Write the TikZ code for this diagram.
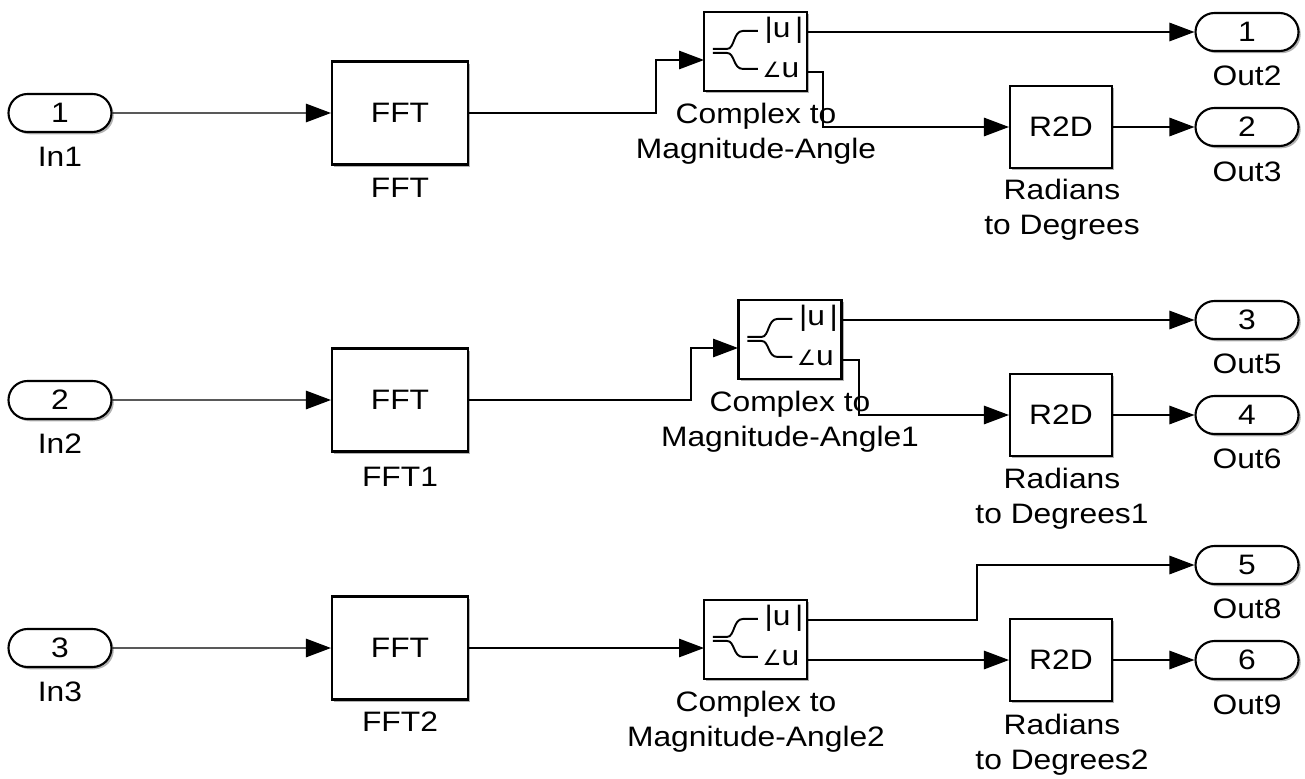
\documentclass[tikz,border=0pt]{standalone}
\usepackage{fontspec}
\setmainfont{Liberation Sans}[FakeStretch=1.13]
\newfontfamily\symfont{DejaVu Sans}
\usetikzlibrary{arrows.meta,shapes.misc,shadows}

\tikzset{
  shade/.style={drop shadow={shadow xshift=0.45mm,shadow yshift=-0.45mm,fill=black,opacity=0.3}},
  port/.style={draw, line width=1.2pt, rounded rectangle, fill=white, shade,
    minimum width=20.6mm, minimum height=7.6mm, inner sep=0pt},
  blk/.style={draw, line width=1.2pt, fill=white, shade, inner sep=0pt},
  fftblk/.style={blk, minimum width=27.2mm, minimum height=20.6mm},
  magblk/.style={blk, minimum width=20.6mm, minimum height=15.8mm},
  degblk/.style={blk, minimum width=20.4mm, minimum height=16.4mm},
  lbl/.style={align=center, inner sep=0pt},
  wire/.style={line width=0.75pt, -{Triangle[length=5mm,width=3.7mm]}},
  magicon/.pic={
    \draw[line width=1.1pt] (10,38) -- (24,38) .. controls (32,38) and (30,20) .. (40,20) -- (55,20);
    \draw[line width=1.1pt] (10,42) -- (24,42) .. controls (32,42) and (30,58) .. (40,58) -- (55,58);
    \node[inner sep=0pt] (-abs) at (81,19) {|u\,|};
    \node[inner sep=0pt] (-ang) at (78,59) {{\symfont\fontsize{12}{12}\selectfont ∠}u};
  },
}

\begin{document}
\begin{tikzpicture}[x=0.2mm, y=-0.2mm, font=\fontsize{16}{20}\selectfont]
  \useasboundingbox (0,0) rectangle (1305,779);

  % first row
  \node[port] (in1) at (60,113) {1};
  \node[lbl] (in1l) at (60,157) {In1};
  \node[fftblk] (fft0) at (400,113) {FFT};
  \node[lbl] (fft0l) at (400,188) {FFT};
  \node[magblk] (c2m0) at (755.5,51.5) {};
  \pic (c2m0icon) at (c2m0.north west) {magicon};
  \coordinate (c2m0in) at (704,60);
  \coordinate (c2m0abs) at (807,32);
  \coordinate (c2m0ang) at (807,72);
  \node[lbl] (c2m0l) at (756,134) {Complex to\\Magnitude-Angle};
  \node[degblk] (r2d0) at (1061,127) {R2D};
  \node[lbl] (r2d0l) at (1062,210) {Radians\\to Degrees};
  \node[port] (out2) at (1247,32) {1};
  \node[lbl] (out2l) at (1247,76) {Out2};
  \node[port] (out3) at (1247,127) {2};
  \node[lbl] (out3l) at (1247,172) {Out3};

  \draw[wire] (in1) -- (fft0);
  \draw[wire] (fft0.east) -- ++(187,0) |- (c2m0in);
  \draw[wire] (c2m0abs) -- (out2);
  \draw[wire] (c2m0ang) -- ++(16,0) |- (r2d0);
  \draw[wire] (r2d0) -- (out3);

  % second row
  \node[port] (in2) at (60,400) {2};
  \node[lbl] (in2l) at (60,444) {In2};
  \node[fftblk] (fft1) at (400,400) {FFT};
  \node[lbl] (fft1l) at (400,477) {FFT1};
  \node[magblk] (c2m1) at (790,339.5) {};
  \pic (c2m1icon) at (c2m1.north west) {magicon};
  \coordinate (c2m1in) at (738,348);
  \coordinate (c2m1abs) at (842,320);
  \coordinate (c2m1ang) at (842,360);
  \node[lbl] (c2m1l) at (790,422) {Complex to\\Magnitude-Angle1};
  \node[degblk] (r2d1) at (1061,415) {R2D};
  \node[lbl] (r2d1l) at (1062,499) {Radians\\to Degrees1};
  \node[port] (out5) at (1247,320) {3};
  \node[lbl] (out5l) at (1247,364) {Out5};
  \node[port] (out6) at (1247,415) {4};
  \node[lbl] (out6l) at (1247,459) {Out6};

  \draw[wire] (in2) -- (fft1);
  \draw[wire] (fft1.east) -- ++(222,0) |- (c2m1in);
  \draw[wire] (c2m1abs) -- (out5);
  \draw[wire] (c2m1ang) -- ++(17,0) |- (r2d1);
  \draw[wire] (r2d1) -- (out6);

  % third row
  \node[port] (in3) at (60,648) {3};
  \node[lbl] (in3l) at (60,692) {In3};
  \node[fftblk] (fft2) at (400,648) {FFT};
  \node[lbl] (fft2l) at (400,722) {FFT2};
  \node[magblk] (c2m2) at (755.5,639.5) {};
  \pic (c2m2icon) at (c2m2.north west) {magicon};
  \coordinate (c2m2in) at (704,648);
  \coordinate (c2m2abs) at (807,620);
  \coordinate (c2m2ang) at (807,660);
  \node[lbl] (c2m2l) at (756,722) {Complex to\\Magnitude-Angle2};
  \node[degblk] (r2d2) at (1061,660) {R2D};
  \node[lbl] (r2d2l) at (1062,745) {Radians\\to Degrees2};
  \node[port] (out8) at (1247,565) {5};
  \node[lbl] (out8l) at (1247,609) {Out8};
  \node[port] (out9) at (1247,660) {6};
  \node[lbl] (out9l) at (1247,705) {Out9};

  \draw[wire] (in3) -- (fft2);
  \draw[wire] (fft2) -- (c2m2in);
  \draw[wire] (c2m2abs) -- ++(170,0) |- (out8);
  \draw[wire] (c2m2ang) -- (r2d2);
  \draw[wire] (r2d2) -- (out9);
\end{tikzpicture}
\end{document}
